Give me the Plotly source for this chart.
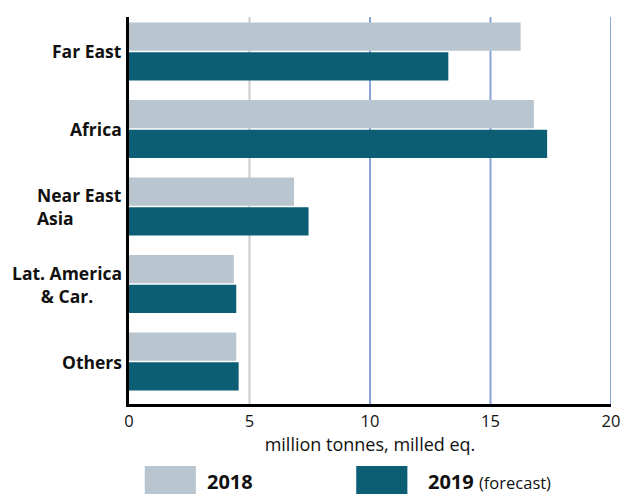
import plotly.graph_objects as go

categories = ["Far East", "Africa", "Near East<br>Asia", "Lat. America<br>& Car.", "Others"]
label_align = ["right", "right", "left", "center", "right"]
values_2018 = [16.25, 16.8, 6.85, 4.35, 4.45]
values_2019 = [13.25, 17.35, 7.45, 4.45, 4.55]
series_names = ["2018", "2019"]
x_ticks = [0, 5, 10, 15, 20]
x_title = "million tonnes, milled eq."

c2018 = "#b9c6cf"
c2019 = "#0c5e75"
FONT = "Open Sans"

# page has an 8px body margin; figure sized so it fills the 629x494 window
W, H = 621, 486
PL, PT, PW, PH = 121, 9, 490, 387


def px(x):   # page x -> paper x
    return (x - 8 - PL) / PW


def py(y):   # page y -> paper y
    return (PT + PH - (y - 8)) / PH


fig = go.Figure()
fig.add_trace(go.Bar(y=categories, x=values_2018, orientation="h", name=series_names[0],
                     marker=dict(color=c2018, line=dict(width=0))))
fig.add_trace(go.Bar(y=categories, x=values_2019, orientation="h", name=series_names[1],
                     marker=dict(color=c2019, line=dict(width=0))))

# grid lines (first one grey, others blue)
for t in x_ticks[1:]:
    fig.add_shape(type="line", xref="x", yref="paper", x0=t, x1=t, y0=0, y1=1,
                  line=dict(color="#cccccc" if t == x_ticks[1] else "#88a4d6", width=2),
                  layer="below")

# category labels
for cat, al in zip(categories, label_align):
    fig.add_annotation(x=0, xref="paper", y=cat, yref="y", text="<b>%s</b>" % cat,
                       xanchor="right", align=al, showarrow=False, xshift=-5,
                       font=dict(family=FONT, size=17.5, color="#111111"))

# custom legend
fig.add_shape(type="rect", xref="paper", yref="paper", x0=px(145), x1=px(197),
              y0=py(466), y1=py(500), fillcolor=c2018, line=dict(width=0))
fig.add_shape(type="rect", xref="paper", yref="paper", x0=px(360), x1=px(412),
              y0=py(466), y1=py(500), fillcolor=c2019, line=dict(width=0))
fig.add_annotation(x=px(206), xref="paper", y=py(482), yref="paper",
                   text="<b>%s</b>" % series_names[0], showarrow=False, xanchor="left", yanchor="middle",
                   font=dict(family=FONT, size=20, color="#111111"))
fig.add_annotation(x=px(431), xref="paper", y=py(482), yref="paper",
                   text="<b>%s</b> <span style='font-size:16.5px'>(forecast)</span>" % series_names[1],
                   showarrow=False, xanchor="left", yanchor="middle",
                   font=dict(family=FONT, size=20, color="#111111"))

fig.update_layout(
    width=W, height=H,
    margin=dict(l=PL, r=W - PL - PW, t=PT, b=H - PT - PH),
    paper_bgcolor="white", plot_bgcolor="white",
    barmode="group", bargap=0.234, bargroupgap=0.05,
    showlegend=False,
    font=dict(family=FONT, size=15, color="#111111"),
    xaxis=dict(range=[0, 20], tickvals=x_ticks, showgrid=False, zeroline=False,
               showline=True, linecolor="black", linewidth=3, ticks="",
               tickfont=dict(size=16.5), title=dict(text=x_title, font=dict(size=18), standoff=0)),
    yaxis=dict(categoryorder="array", categoryarray=categories, range=[4.548, -0.445],
               showticklabels=False, showgrid=False, zeroline=False,
               showline=True, linecolor="black", linewidth=3, ticks=""),
)

fig.write_html("out.html", config={"displayModeBar": False})
